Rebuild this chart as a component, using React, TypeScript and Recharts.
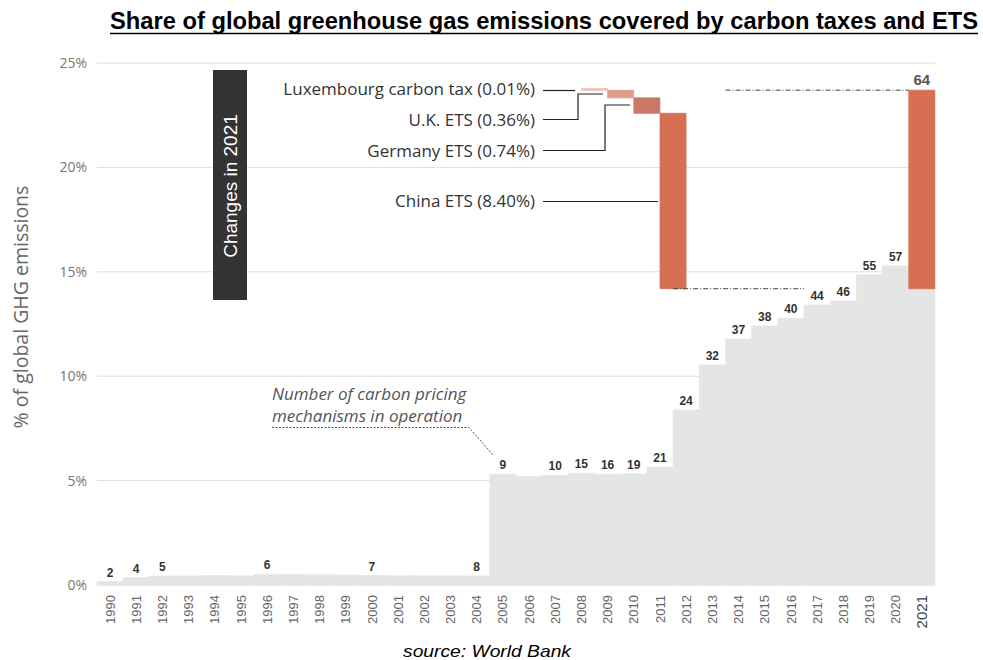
import React from "react";
import {
  ComposedChart,
  Bar,
  XAxis,
  YAxis,
  CartesianGrid,
  Cell,
  LabelList,
  ReferenceLine,
} from "recharts";

// years on the axis
const years = [
  "1990", "1991", "1992", "1993", "1994", "1995", "1996", "1997", "1998", "1999",
  "2000", "2001", "2002", "2003", "2004", "2005", "2006", "2007", "2008", "2009",
  "2010", "2011", "2012", "2013", "2014", "2015", "2016", "2017", "2018", "2019",
  "2020", "2021",
];

// % of global GHG emissions covered
const sharePct = [
  0.16, 0.35, 0.43, 0.43, 0.45, 0.44, 0.51, 0.5, 0.49, 0.48,
  0.45, 0.44, 0.44, 0.44, 0.43, 5.3, 5.2, 5.25, 5.35, 5.3,
  5.32, 5.64, 8.38, 10.54, 11.77, 12.4, 12.77, 13.41, 13.6, 14.85,
  15.28, 14.19,
];

// number of carbon pricing mechanisms in operation
const mechanismCount = [
  2, 4, 5, null, null, null, 6, null, null, null,
  7, null, null, null, 8, 9, null, 10, 15, 16,
  19, 21, 24, 32, 37, 38, 40, 44, 46, 55,
  57, 64,
];

// changes in 2021 (waterfall, top to bottom)
const changeNames = ["Luxembourg carbon tax", "U.K. ETS", "Germany ETS", "China ETS"];
const changeSlots = ["2009", "2010", "2011", "2012"];
const changeShares = [0.01, 0.36, 0.74, 8.4];
const changeColors = ["#ecc3b8", "#dc9d8d", "#c97866", "#d76f52"];

const yTicks = [0, 5, 10, 15, 20, 25];

const W = 983;
const H = 660;
const PLOT_LEFT = 97;
const PLOT_RIGHT = 935;
const PLOT_TOP = 63;
const PLOT_BOTTOM = 585;
const Y_AXIS_W = 60;
const X_AXIS_H = 40;
const halfBand = (PLOT_RIGHT - PLOT_LEFT) / years.length / 2;

const base2021 = sharePct[sharePct.length - 1];
const changeRanges: [number, number][] = [];
{
  let low = base2021;
  for (let i = changeShares.length - 1; i >= 0; i--) {
    changeRanges[i] = [low, low + changeShares[i]];
    low += changeShares[i];
  }
}
const total2021 = base2021 + changeShares.reduce((a, b) => a + b, 0);

const data = years.map((year, i) => {
  const last = i === years.length - 1;
  const ci = changeSlots.indexOf(year);
  return {
    year,
    share: sharePct[i],
    count: last ? null : mechanismCount[i],
    added: last ? total2021 - sharePct[i] : null,
    addedCount: last ? mechanismCount[i] : null,
    change: ci >= 0 ? changeRanges[ci] : null,
    changeColor: ci >= 0 ? changeColors[ci] : "none",
  };
});

const labelFont = "'Open Sans', 'Noto Sans', sans-serif";
const GREY = "#e5e5e5";
const ORANGE = "#d76f52";

const YearTick = (props: any) => {
  const { x, y, payload } = props;
  const last = payload.value === years[years.length - 1];
  return (
    <text
      x={x}
      y={y}
      transform={`rotate(-90 ${x} ${y})`}
      textAnchor="end"
      dy="0.35em"
      fontSize={last ? 15 : 13}
      fill={last ? "#444" : "#666"}
      fontFamily="'Liberation Sans', Arial, sans-serif"
    >
      {payload.value}
    </text>
  );
};

// leader lines from the change labels to the bars
const leaderTexts = [
  { y: 95, pts: "543,90.5 575,90.5" },
  { y: 126, pts: "543,119.5 578,119.5 578,94 603,94" },
  { y: 157, pts: "543,150.5 605,150.5 605,105 630,105" },
  { y: 207, pts: "543,201.5 658,201.5" },
];

export default function App() {
  return (
    <div
      style={{
        position: "absolute",
        left: 0,
        top: 0,
        width: W,
        height: H,
        background: "#fff",
        overflow: "hidden",
      }}
    >
      <ComposedChart
        width={W}
        height={H}
        data={data}
        barCategoryGap={0}
        barGap={0}
        margin={{
          top: PLOT_TOP,
          right: W - PLOT_RIGHT,
          bottom: H - PLOT_BOTTOM - X_AXIS_H,
          left: PLOT_LEFT - Y_AXIS_W,
        }}
      >
        <CartesianGrid vertical={false} stroke="#dedede" />
        <XAxis
          dataKey="year"
          height={X_AXIS_H}
          interval={0}
          axisLine={false}
          tickLine={false}
          tickSize={0}
          tickMargin={10}
          tick={<YearTick />}
        />
        <XAxis
          xAxisId="shift"
          dataKey="year"
          hide
          padding={{ left: -halfBand, right: halfBand }}
        />
        <YAxis
          width={Y_AXIS_W}
          domain={[0, 25]}
          ticks={yTicks}
          axisLine={false}
          tickLine={false}
          tickSize={0}
          tickMargin={10}
          tickFormatter={(v: number) => `${v}%`}
          tick={{ fontSize: 14, fill: "#777", fontFamily: labelFont }}
        />
        <ReferenceLine
          xAxisId="shift"
          segment={[
            { x: "2012", y: base2021 },
            { x: "2017", y: base2021 },
          ]}
          stroke="#444"
          strokeDasharray="5 2 1 2"
        />
        <ReferenceLine
          xAxisId="shift"
          segment={[
            { x: "2014", y: total2021 },
            { x: "2021", y: total2021 },
          ]}
          stroke="#444"
          strokeDasharray="5 2 1 2"
        />
        <Bar
          dataKey="share"
          stackId="s"
          fill={GREY}
          stroke={GREY}
          strokeWidth={0.8}
          isAnimationActive={false}
        >
          <LabelList
            dataKey="count"
            position="top"
            offset={5}
            fontSize={12}
            fontWeight="bold"
            fill="#333"
            fontFamily="'Liberation Sans', Arial, sans-serif"
          />
        </Bar>
        <Bar
          dataKey="added"
          stackId="s"
          fill={ORANGE}
          stroke={ORANGE}
          strokeWidth={0.8}
          isAnimationActive={false}
        >
          <LabelList
            dataKey="addedCount"
            position="top"
            offset={5}
            fontSize={15}
            fontWeight="bold"
            fill="#555"
            fontFamily="'Liberation Sans', Arial, sans-serif"
          />
        </Bar>
        <Bar xAxisId="shift" dataKey="change" minPointSize={2} isAnimationActive={false}>
          {data.map((d) => (
            <Cell
              key={d.year}
              fill={d.changeColor}
              stroke={d.changeColor}
              strokeWidth={0.8}
            />
          ))}
        </Bar>
      </ComposedChart>

      <svg
        width={W}
        height={H}
        style={{ position: "absolute", left: 0, top: 0, pointerEvents: "none" }}
      >
        <text
          x={978}
          y={29}
          textAnchor="end"
          fontSize={23}
          fontWeight="bold"
          fill="#000"
          fontFamily="'Liberation Sans', Arial, sans-serif"
          textLength={868}
          lengthAdjust="spacingAndGlyphs"
        >
          Share of global greenhouse gas emissions covered by carbon taxes and ETS
        </text>
        <line x1={110} x2={978} y1={33.5} y2={33.5} stroke="#000" strokeWidth={1.5} />

        <text
          x={21}
          y={307}
          transform="rotate(-90 21 307)"
          textAnchor="middle"
          dy="0.35em"
          fontSize={19.5}
          fill="#666"
          fontFamily={labelFont}
        >
          % of global GHG emissions
        </text>

        <rect x={213} y={70} width={34} height={230} fill="#333" />
        <text
          x={230}
          y={186}
          transform="rotate(-90 230 186)"
          textAnchor="middle"
          dy="0.35em"
          fontSize={19}
          fill="#fff"
          fontFamily="'Liberation Sans', Arial, sans-serif"
        >
          Changes in 2021
        </text>

        {changeNames.map((name, i) => (
          <g key={name}>
            <text
              x={535}
              y={leaderTexts[i].y}
              textAnchor="end"
              fontSize={17}
              fill="#333"
              fontFamily={labelFont}
            >
              {`${name} (${changeShares[i].toFixed(2)}%)`}
            </text>
            <polyline
              points={leaderTexts[i].pts}
              fill="none"
              stroke="#222"
              strokeWidth={1.2}
            />
          </g>
        ))}

        <text x={272} y={400} fontSize={17} fontStyle="italic" fill="#555" fontFamily={labelFont}>
          Number of carbon pricing
        </text>
        <text x={272} y={422} fontSize={17} fontStyle="italic" fill="#555" fontFamily={labelFont}>
          mechanisms in operation
        </text>
        <polyline
          points="272,427.5 469,427.5 493,455"
          fill="none"
          stroke="#555"
          strokeWidth={1}
          strokeDasharray="2 1.5"
        />

        <text
          x={487}
          y={657}
          textAnchor="middle"
          fontSize={17}
          fontStyle="italic"
          fill="#000"
          fontFamily="'Liberation Sans', Arial, sans-serif"
          textLength={168}
          lengthAdjust="spacingAndGlyphs"
        >
          source: World Bank
        </text>
      </svg>
    </div>
  );
}
